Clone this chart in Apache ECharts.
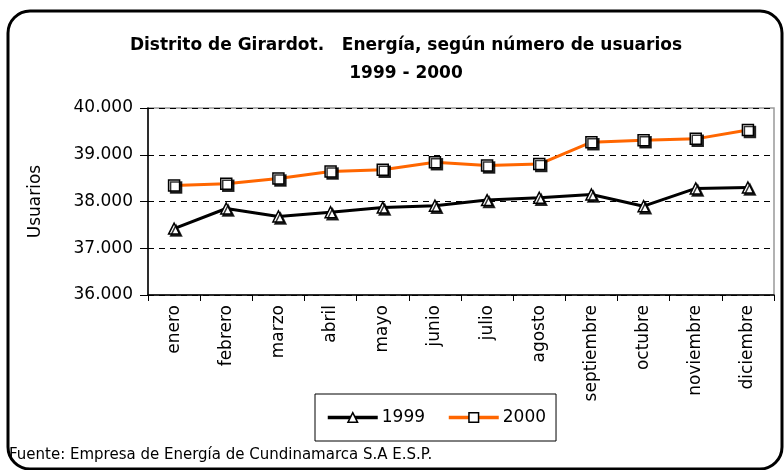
<!DOCTYPE html>
<html>
<head>
<meta charset="utf-8">
<script src="https://cdn.jsdelivr.net/npm/echarts@6/dist/echarts.min.js"></script>
<style>
  html, body { margin: 0; padding: 0; background: #fff; }
  #main { width: 784px; height: 470px; }
</style>
</head>
<body>
<div id="main"></div>
<script>
var meses = ['enero', 'febrero', 'marzo', 'abril', 'mayo', 'junio', 'julio',
  'agosto', 'septiembre', 'octubre', 'noviembre', 'diciembre'];
var usuarios1999 = [37420, 37850, 37680, 37770, 37870, 37910, 38030, 38080, 38150, 37900, 38280, 38300];
var usuarios2000 = [38340, 38380, 38490, 38640, 38680, 38840, 38770, 38800, 39270, 39310, 39340, 39530];

var chartDom = document.getElementById('main');
var myChart = echarts.init(chartDom);
var font = 'DejaVu Sans, sans-serif';

function miles(v) {
  return String(v).replace(/\B(?=(\d{3})+(?!\d))/g, '.');
}

var markerStyle = {
  color: '#fff',
  borderColor: '#000',
  borderWidth: 1.5,
  shadowColor: 'rgba(0,0,0,0.8)',
  shadowBlur: 0,
  shadowOffsetX: 2,
  shadowOffsetY: 2
};

var option = {
  animation: false,
  textStyle: { fontFamily: font },
  title: {
    text: 'Distrito de Girardot.   Energía, según número de usuarios\n1999 - 2000',
    left: 401,
    textAlign: 'center',
    top: 27,
    textStyle: { fontSize: 17, fontWeight: 'bold', color: '#000', lineHeight: 28, fontFamily: font }
  },
  graphic: [
    {
      type: 'rect',
      shape: { x: 8, y: 11, width: 774, height: 458, r: 22 },
      style: { fill: 'none', stroke: '#000', lineWidth: 3 },
      z: 100
    },
    {
      type: 'text',
      left: 9,
      top: 448,
      style: { text: 'Fuente: Empresa de Energía de Cundinamarca S.A E.S.P.', fontSize: 15, fill: '#000', fontFamily: font }
    }
  ],
  legend: {
    data: ['1999', '2000'],
    left: 315,
    top: 394,
    width: 237,
    padding: [15, 10, 15, 11],
    itemGap: 22,
    itemWidth: 50,
    itemHeight: 12,
    borderColor: '#000',
    borderWidth: 1,
    lineStyle: { width: 3.5 },
    itemStyle: { shadowColor: 'transparent', shadowOffsetX: 0, shadowOffsetY: 0, borderWidth: 1.5 },
    textStyle: { fontSize: 17, color: '#000', fontFamily: font, padding: [0, 0, 0, -1] }
  },
  grid: {
    left: 148,
    right: 10,
    top: 108,
    bottom: 175,
    show: true,
    borderColor: '#999',
    borderWidth: 1.5
  },
  xAxis: {
    type: 'category',
    data: meses,
    boundaryGap: true,
    axisLine: { lineStyle: { color: '#000', width: 1.5 } },
    axisTick: { show: true, length: 6, interval: 0, lineStyle: { color: '#000' } },
    axisLabel: {
      rotate: 90,
      interval: 0,
      fontSize: 17,
      color: '#000',
      margin: 10,
      fontFamily: font
    }
  },
  yAxis: {
    type: 'value',
    min: 36000,
    max: 40000,
    interval: 1000,
    name: 'Usuarios',
    nameLocation: 'middle',
    nameGap: 104,
    nameTextStyle: { fontSize: 17, color: '#000', fontFamily: font },
    axisLine: { show: true, lineStyle: { color: '#000', width: 1.5 } },
    axisTick: { show: true, length: 8, lineStyle: { color: '#000' } },
    axisLabel: {
      fontSize: 17,
      color: '#000',
      margin: 15,
      fontFamily: font,
      formatter: miles
    },
    splitLine: { show: true, lineStyle: { color: '#000', type: [6, 5], width: 1 } }
  },
  series: [
    {
      name: '1999',
      type: 'line',
      data: usuarios1999,
      symbol: 'triangle',
      symbolSize: 11,
      lineStyle: { color: '#000', width: 3 },
      itemStyle: markerStyle,
      color: '#000'
    },
    {
      name: '2000',
      type: 'line',
      data: usuarios2000,
      symbol: 'rect',
      symbolSize: 11,
      lineStyle: { color: '#FF6600', width: 3 },
      itemStyle: markerStyle,
      color: '#FF6600'
    }
  ]
};

option && myChart.setOption(option);
</script>
</body>
</html>
